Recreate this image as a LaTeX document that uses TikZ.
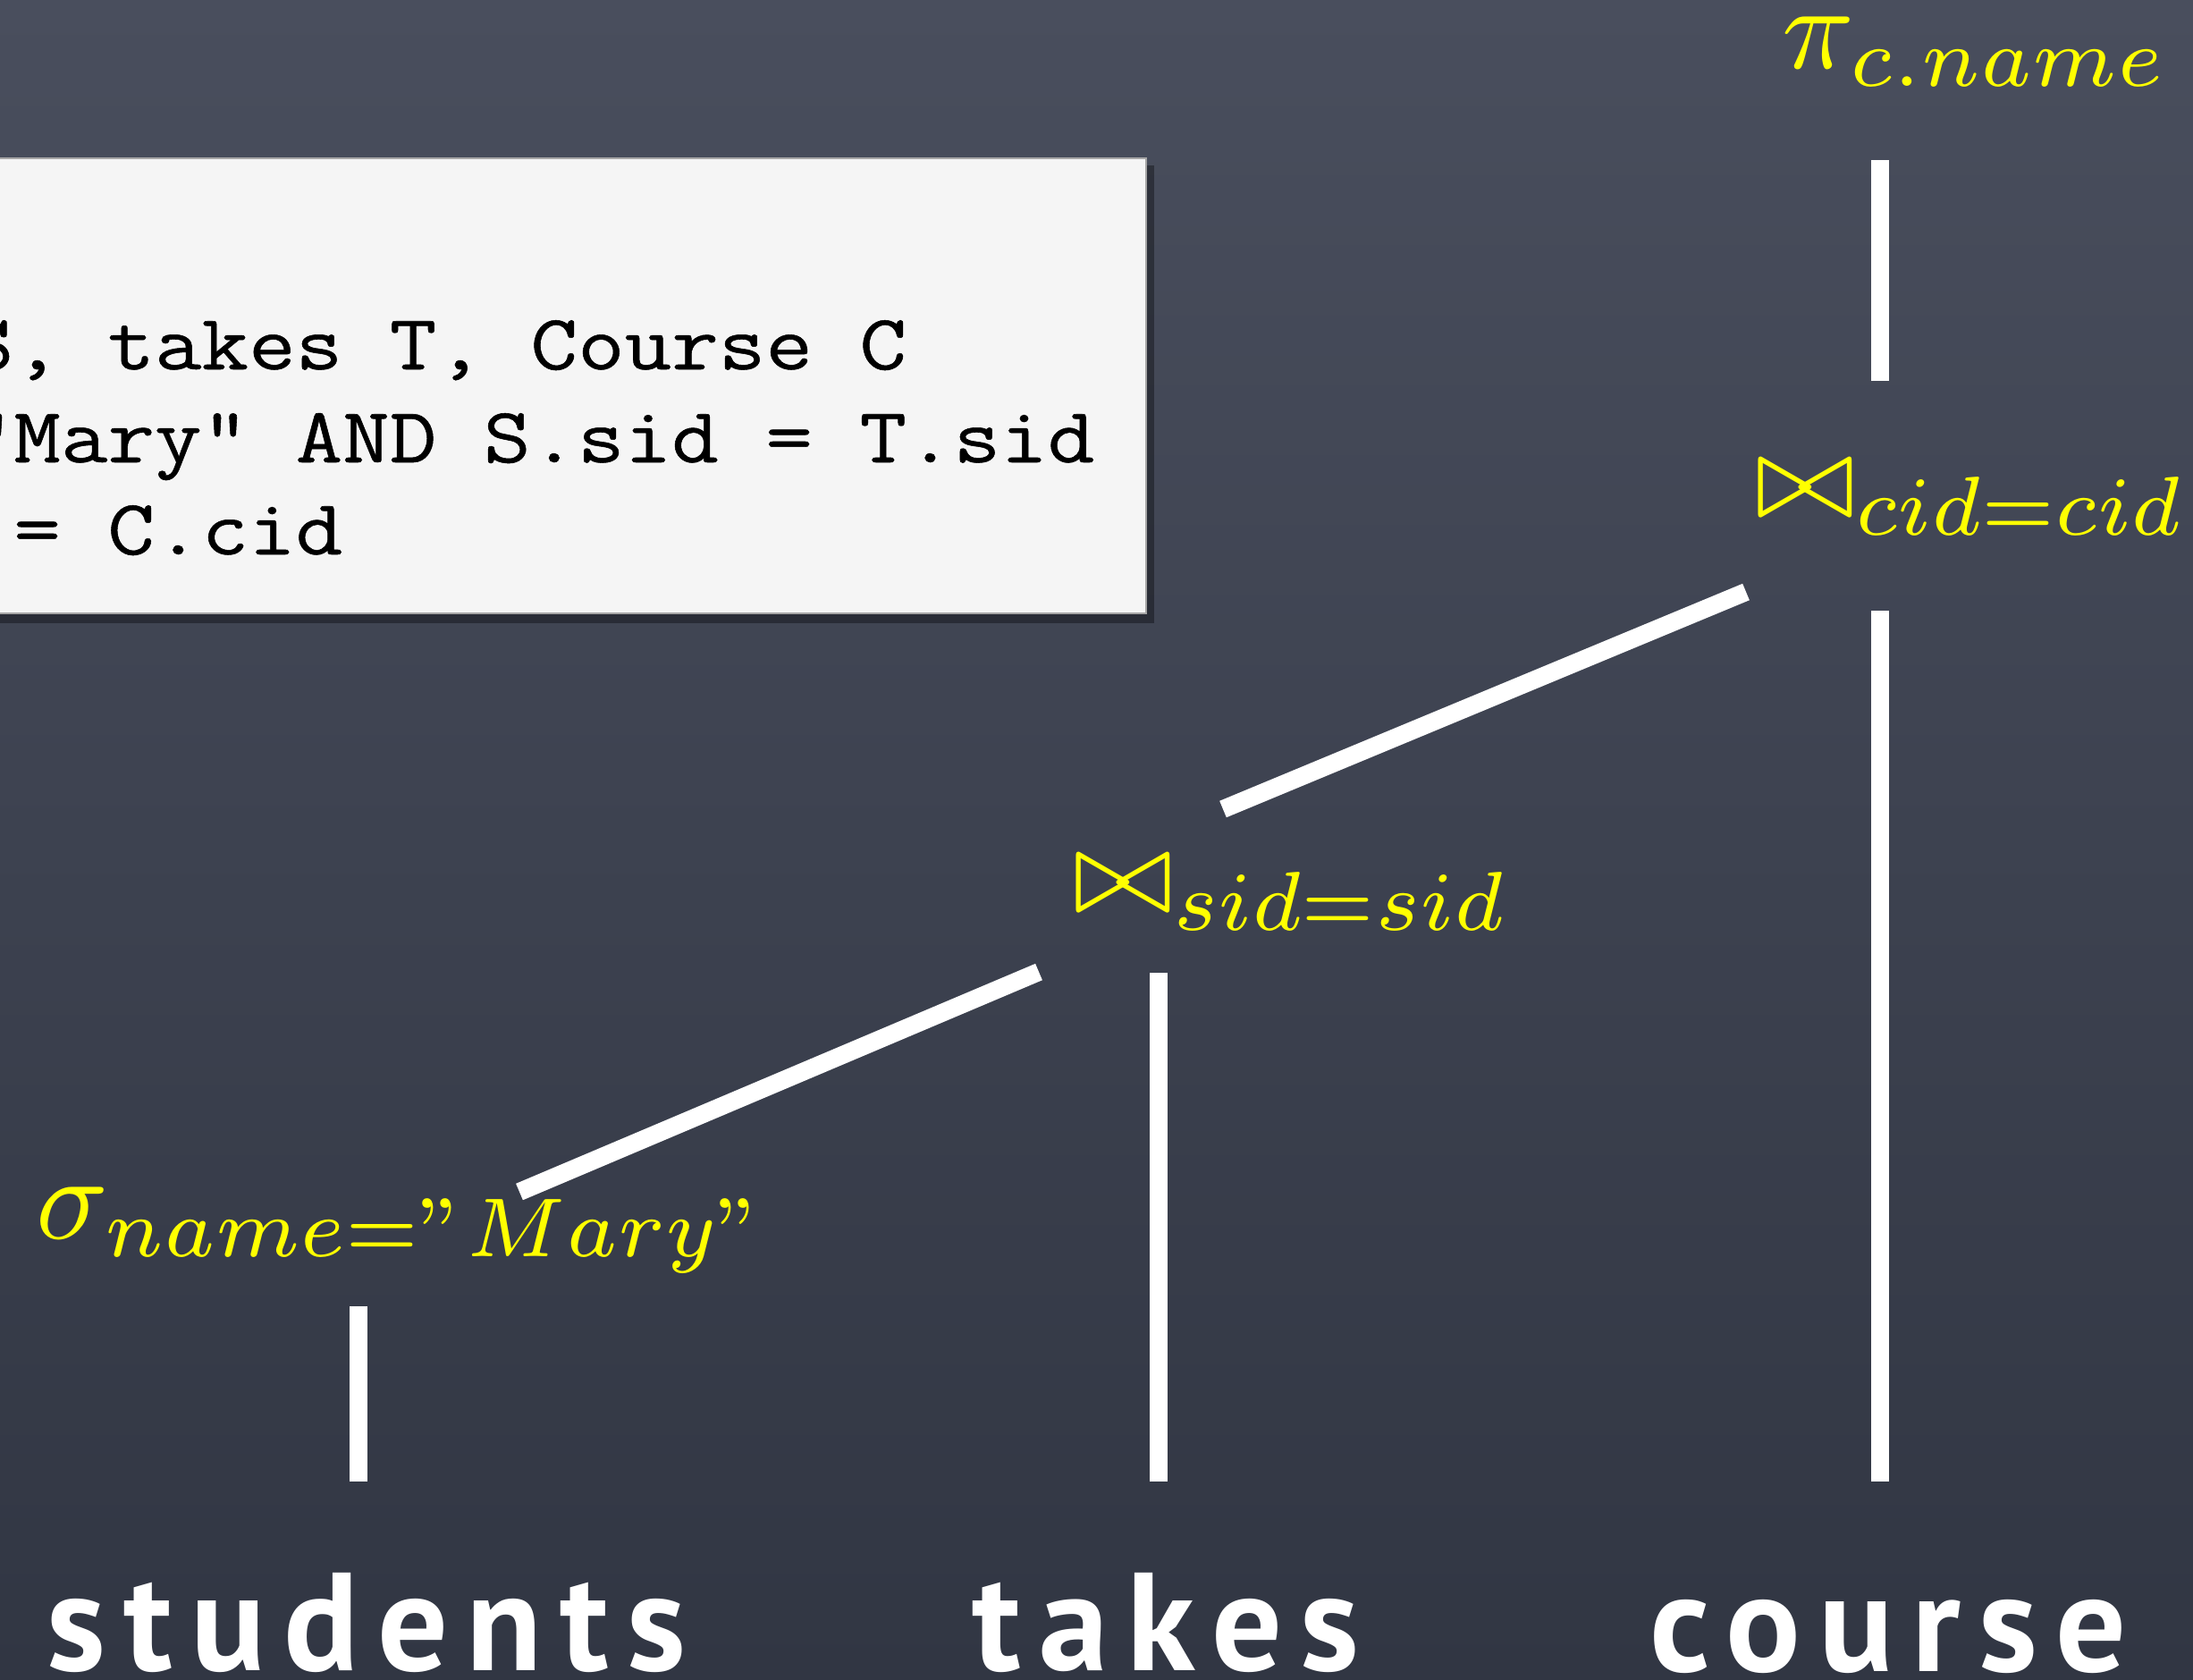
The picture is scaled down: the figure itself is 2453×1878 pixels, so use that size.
\documentclass[tikz,border=0pt]{standalone}
\usepackage{graphicx}
\usepackage[no-math]{fontspec}
\newfontfamily\chalkfont{PT Sans}[LetterSpace=13]
\newfontfamily\sqlfont{Latin Modern Mono}[FakeStretch=1.16,FakeBold=0.6]
\usepackage{tikz}

\definecolor{boardtop}{RGB}{73,78,93}
\definecolor{boardbot}{RGB}{49,54,67}
\definecolor{opyellow}{RGB}{255,255,0}
\definecolor{cardfill}{RGB}{245,245,245}

\newcommand{\opterm}[1]{\scalebox{3.34}{$#1$}}

\tikzset{
  op/.style={text=opyellow, inner sep=0pt, anchor=base west, text height=16pt, text depth=0pt, font=\fontsize{10}{12}\selectfont},
  chalk/.style={draw=white, line width=5pt},
  chalkword/.style={text=white, inner sep=0pt, anchor=base, text height=33pt, text depth=0pt, font=\chalkfont\bfseries\fontsize{39}{46}\selectfont},
  sqlline/.style={inner sep=0pt, anchor=base west, font=\sqlfont\fontsize{22}{26}\selectfont}
}

\begin{document}
\begin{tikzpicture}[x=0.25pt,y=0.25pt,yscale=-1,xscale=1]
\useasboundingbox (0,0) rectangle (2453,1878);

%Board
\shade[top color=boardtop, bottom color=boardbot] (0,0) rectangle (2453,1878);

%Card with the query
\fill[black, opacity=0.35] (-20,185) rectangle (1291,697);
\filldraw[fill=cardfill, draw=gray!70, line width=0.5pt] (-20,177) rectangle (1282,686);
\node[sqlline] (sql1) at (-38,413) {S, takes T, Course C};
\node[sqlline] (sql2) at (-38,517) {”Mary” AND S.sid = T.sid};
\node[sqlline] (sql3) at (-38,620) {\hphantom{=}= C.cid};

%Operators
\node[op] (proj) at (1993,76) {\opterm{\pi_{c.name}}};
\node[op] (joincid) at (1963,578) {\opterm{\bowtie_{cid=cid}}};
\node[op] (joinsid) at (1200,1020) {\opterm{\bowtie_{sid=sid}}};
\node[op] (sigma) at (40,1385) {\opterm{\sigma_{name="Mary"}}};

%Relations
\node[chalkword] (students) at (410,1868) {students};
\node[chalkword] (takes) at (1304,1868) {takes};
\node[chalkword] (course) at (2112,1869) {course};

%Vertical strokes
\draw[chalk, shorten <=19.5pt, shorten >=18.75pt] (students.north -| 401,0) -- (401,0 |- sigma.south);
\draw[chalk, shorten <=19.5pt, shorten >=16.75pt] (takes.north -| 1296,0) -- (1296,0 |- joinsid.south);
\draw[chalk, shorten <=19.75pt, shorten >=26pt] (course.north -| 2103,0) -- (2103,0 |- joincid.south);
\draw[chalk, shorten <=21.75pt, shorten >=25.5pt] (2103,0 |- joincid.north) -- (2103,0 |- proj.south);

%Slanted strokes
\coordinate (selend) at (581,1333);
\coordinate (sidfoot) at (1162,1087);
\coordinate (sidhead) at (1368,905);
\coordinate (cidfoot) at (1953,662);
\draw[chalk] (selend) -- (sidfoot);
\draw[chalk] (sidhead) -- (cidfoot);

\end{tikzpicture}
\end{document}
